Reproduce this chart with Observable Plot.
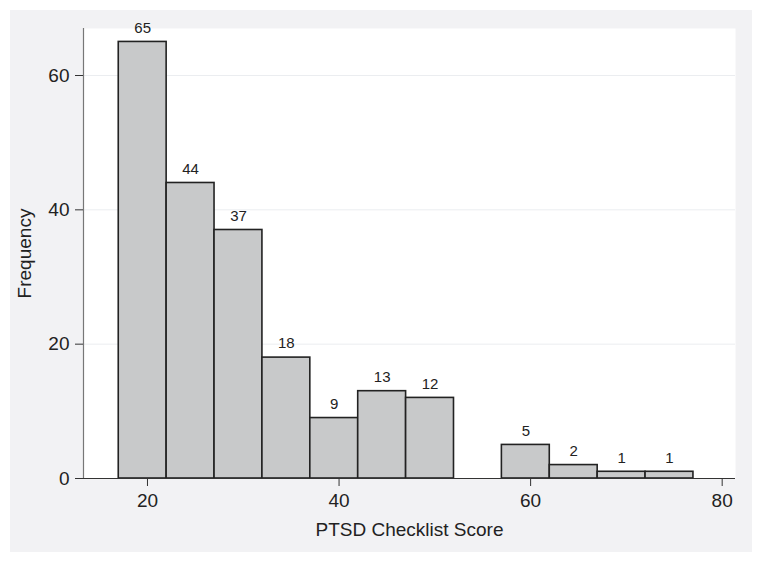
<!DOCTYPE html>
<html>
<head>
<meta charset="utf-8">
<script src="https://cdn.jsdelivr.net/npm/d3@7"></script>
<script src="https://cdn.jsdelivr.net/npm/@observablehq/plot@0.6"></script>
<style>
  html, body { margin: 0; padding: 0; background: #ffffff; }
  #wrap { position: absolute; left: 10px; top: 10px; width: 742px; height: 542px; background: #f2f2f4; }
  svg { display: block; }
</style>
</head>
<body>
<div id="wrap"></div>
<script>
// Histogram of PTSD Checklist Score (bin width 5)
const binStarts = [17, 22, 27, 32, 37, 42, 47, 52, 57, 62, 67, 72];
const binWidth = 5;
const counts = [65, 44, 37, 18, 9, 13, 12, 0, 5, 2, 1, 1];
const xTicks = [20, 40, 60, 80];
const yTicks = [0, 20, 40, 60];

const bins = binStarts.map((s, i) => ({x1: s, x2: s + binWidth, count: counts[i]}))
  .filter(d => d.count > 0);

const font = "'Liberation Sans', Arial, Helvetica, sans-serif";

const chart = Plot.plot({
  width: 742,
  height: 542,
  marginLeft: 73,
  marginTop: 18,
  marginRight: 17,
  marginBottom: 74,
  style: { background: "transparent", fontFamily: font, fontSize: "18px", color: "#222" },
  x: { domain: [13.32, 81.39], ticks: xTicks },
  y: { domain: [0, 67], ticks: yTicks },
  marks: [
    Plot.frame({ fill: "#ffffff", stroke: null }),
    Plot.gridY(yTicks.filter(t => t > 0), { stroke: "#ebedf0", strokeOpacity: 1, strokeWidth: 1 }),
    Plot.rectY(bins, { x1: "x1", x2: "x2", y: "count", fill: "#c8c9ca", stroke: "#222222", strokeWidth: 1.6 }),
    Plot.text(bins, { x: d => (d.x1 + d.x2) / 2, y: "count", text: d => String(d.count), dy: -14, fontSize: 15, fill: "#222" }),
    Plot.ruleX([13.32], { stroke: "#777", strokeWidth: 1.2 }),
    Plot.ruleY([0], { stroke: "#333", strokeWidth: 1.2 }),
    Plot.axisX({ ticks: xTicks, tickSize: 8, tickPadding: 7, fontSize: 19, stroke: "#333",
      label: "PTSD Checklist Score", labelAnchor: "center", labelArrow: "none", labelOffset: 57 }),
    Plot.axisY({ ticks: yTicks, tickSize: 8, tickPadding: 6, fontSize: 19, stroke: "#333",
      label: "Frequency", labelAnchor: "center", labelArrow: "none", labelOffset: 66 })
  ]
});
document.getElementById("wrap").appendChild(chart);
</script>
</body>
</html>
